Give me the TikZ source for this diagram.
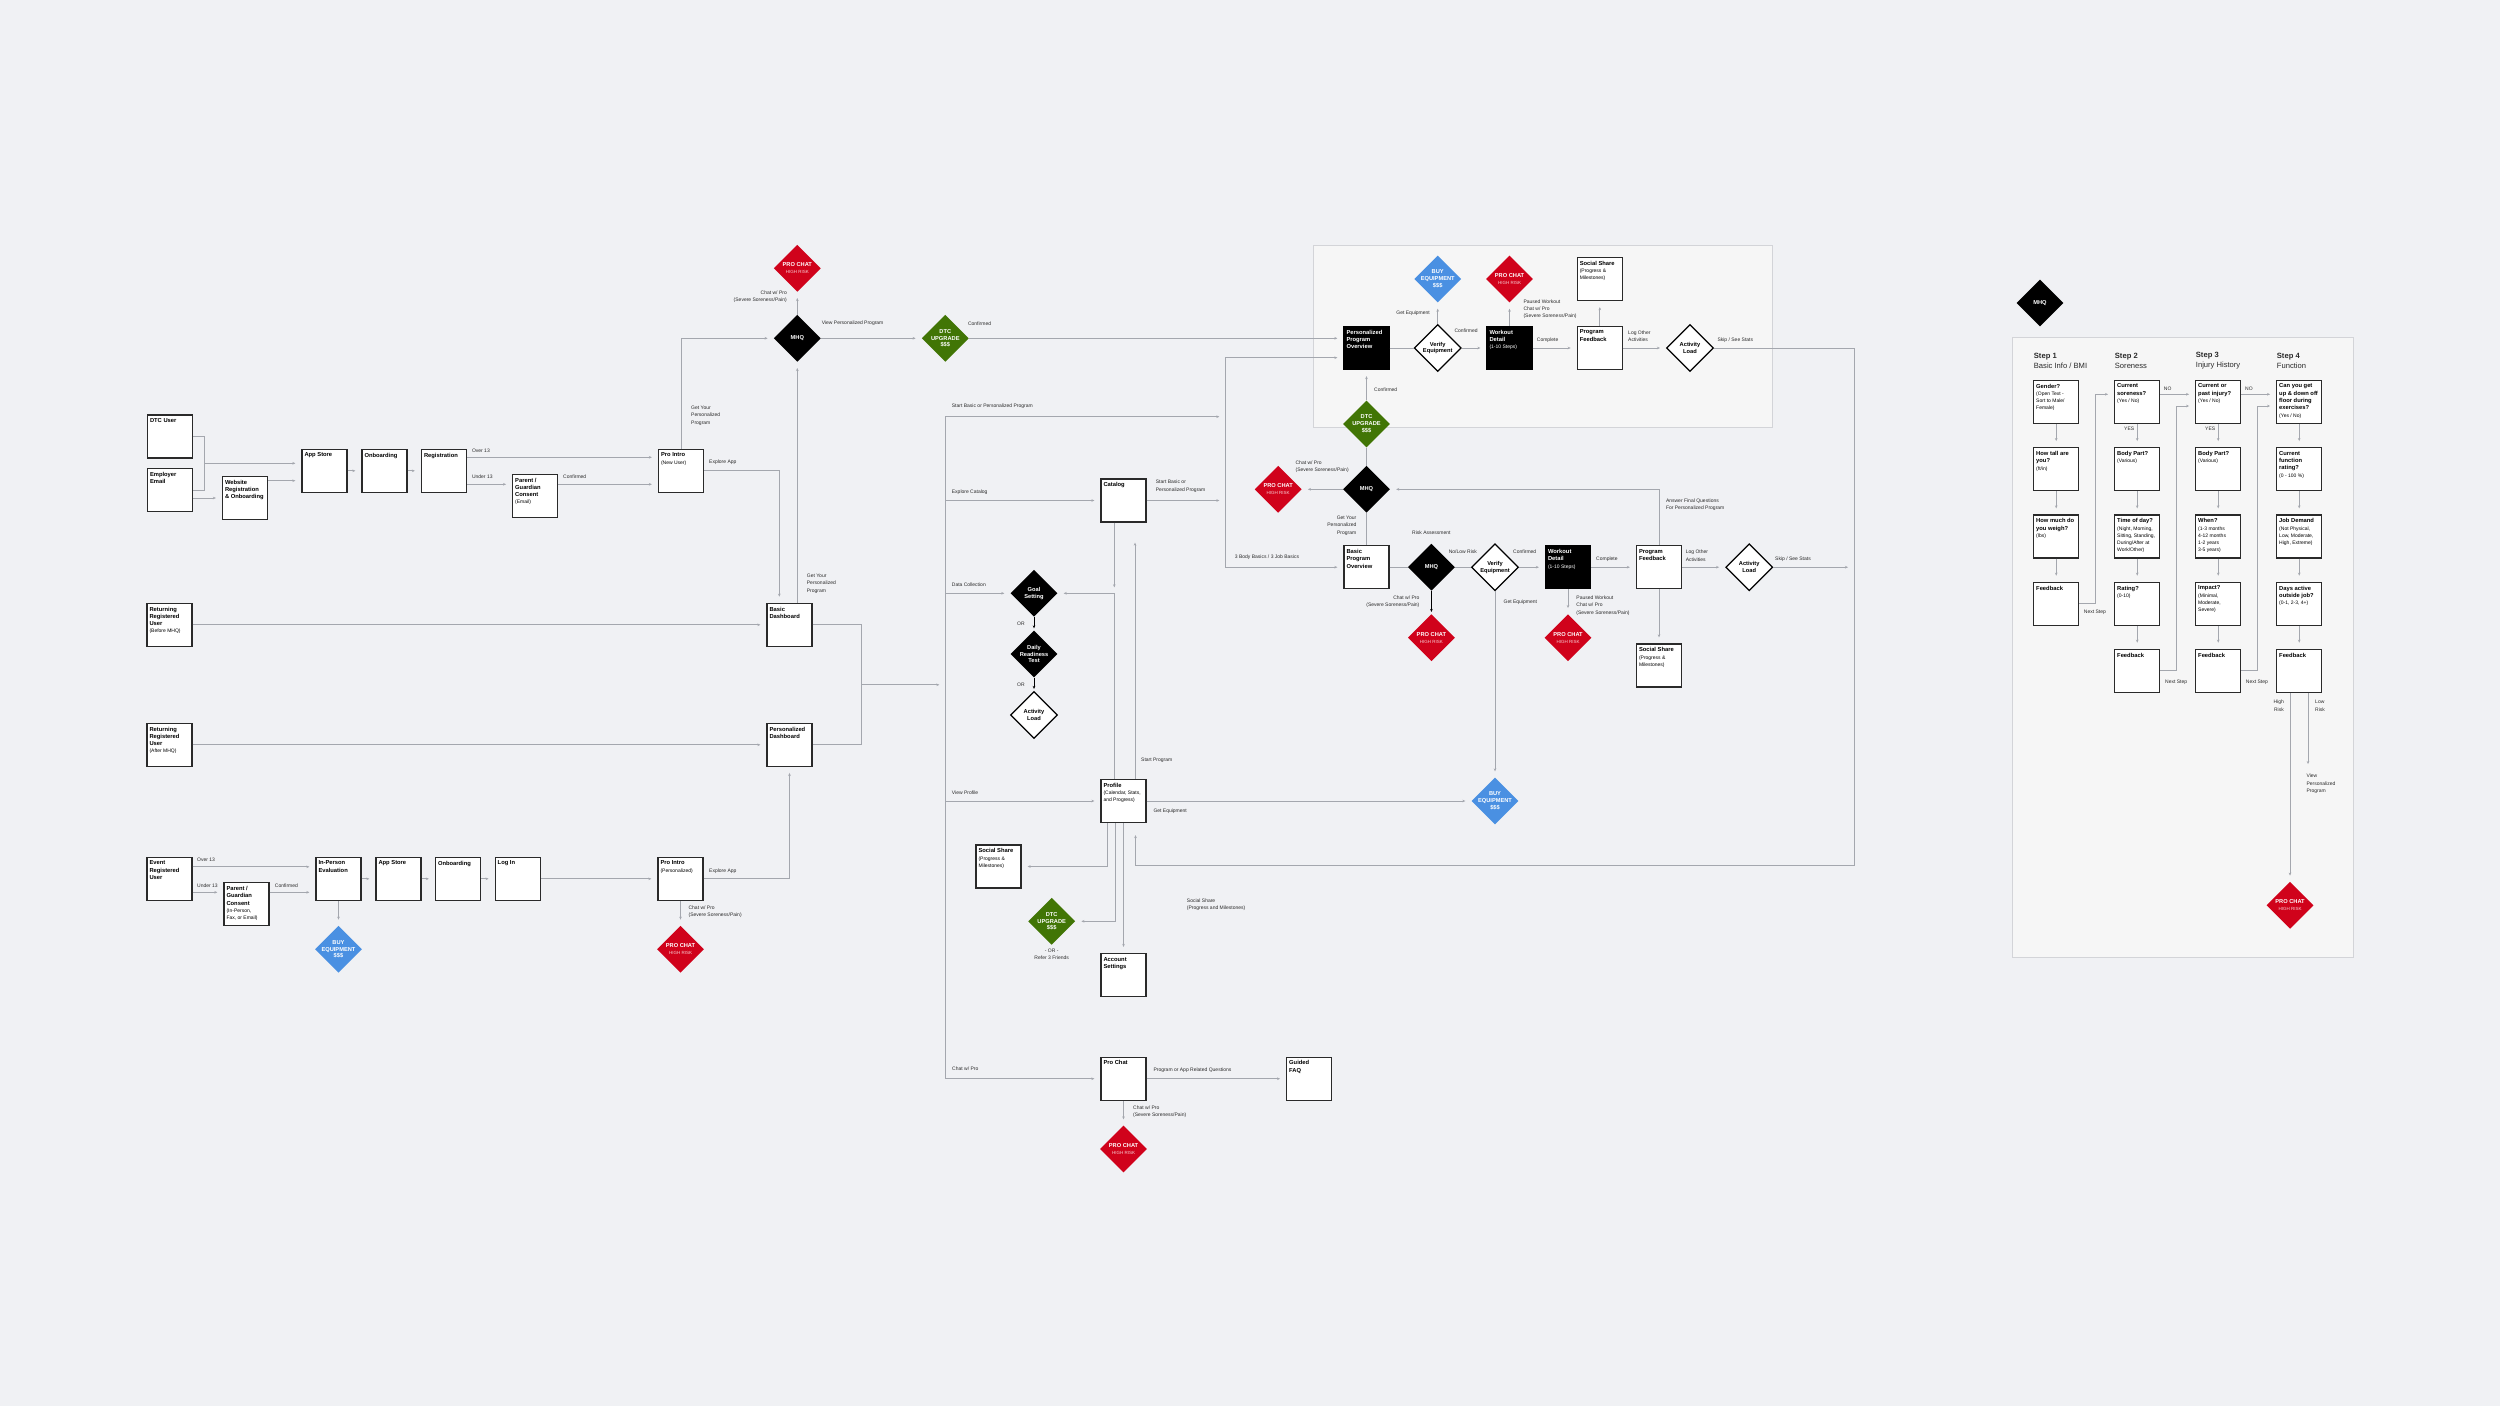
\documentclass[tikz,border=0pt]{standalone}
\usepackage{fontspec}
\setmainfont{Liberation Sans}
\usepackage{tikz}
\usepackage{xcolor}
\usetikzlibrary{shapes.geometric, arrows.meta, positioning}
\definecolor{FlowBg}{HTML}{F0F1F4}
\definecolor{FlowLine}{HTML}{A4A7AE}
\definecolor{FlowInk}{HTML}{2A2A2A}
\definecolor{FlowPanel}{HTML}{F6F6F6}
\definecolor{FlowPanelEdge}{HTML}{D3D4D8}
\definecolor{RiskRed}{HTML}{D0021B}
\definecolor{UpgradeGreen}{HTML}{417505}
\definecolor{EquipBlue}{HTML}{4A90E2}
\newcommand{\scrtxt}[2]{\parbox[c][36pt][t]{40pt}{\raggedright\fontsize{5.8}{7.3}\selectfont\textbf{#1}\par\fontsize{5}{7.3}\selectfont #2}}
\newcommand{\highrisk}{{\fontsize{4.5}{6}\selectfont\mdseries\color{white!82!RiskRed}HIGH RISK}}

\begin{document}
\begin{tikzpicture}[
    x=1pt, y=-1pt,
    screen/.style={draw=FlowInk, line width=1.3pt, fill=white, minimum width=45pt, minimum height=43pt, inner sep=2.5pt},
    darkscreen/.style={screen, draw=black, fill=black, text=white},
    decision/.style={diamond, minimum width=47pt, minimum height=47pt, inner sep=-4pt, align=center, text=white, font=\fontsize{5.7}{6.9}\selectfont\bfseries},
    mhq/.style={decision, fill=black},
    prochat/.style={decision, fill=RiskRed},
    upgrade/.style={decision, fill=UpgradeGreen},
    equip/.style={decision, fill=EquipBlue},
    check/.style={decision, fill=white, draw=black, line width=1.2pt, text=black},
    link/.style={draw=FlowLine, line width=0.8pt},
    flow/.style={link, -{Stealth[length=3pt,width=2.6pt]}, shorten >=6pt},
    darkflow/.style={draw=black, line width=0.9pt, -{Stealth[length=3pt,width=2.6pt]}, shorten >=2pt},
    lbl/.style={font=\fontsize{5}{7.3}\selectfont, text=FlowInk, inner sep=0pt, align=left, anchor=west},
    stephead/.style={font=\fontsize{7.6}{10}\selectfont, text=FlowInk, inner sep=0pt, align=left, anchor=west}
]
\useasboundingbox (0,0) rectangle (2500,1406);
\fill[FlowBg] (0,0) rectangle (2500,1406);

% panels
\draw[FlowPanelEdge, fill=FlowPanel, line width=1pt] (1313.3,245) rectangle (1772.7,427.3);
\draw[FlowPanelEdge, fill=FlowPanel, line width=1pt] (2012.3,337.3) rectangle (2353.3,957.3);

% new users
\node[screen] (dtcuser) at (170,436.5) {\scrtxt{DTC User}{}};
\node[screen] (employer) at (170,490) {\scrtxt{Employer\\Email}{}};
\node[screen] (website) at (245,498) {\scrtxt{Website\\Registration\\\& Onboarding}{}};
\node[screen] (appstoreA) at (324.5,470.8) {\scrtxt{App Store}{}};
\node[screen] (onboardA) at (384.5,470.8) {\scrtxt{Onboarding}{}};
\node[screen] (register) at (444,470.8) {\scrtxt{Registration}{}};
\node[screen] (consentA) at (535.2,495.8) {\scrtxt{Parent /\\Guardian\\Consent}{(Email)}};
\node[screen] (introNew) at (681,470.8) {\scrtxt{Pro Intro}{(New User)}};

% returning users
\node[screen] (returnBefore) at (169.5,624.8) {\scrtxt{Returning\\Registered\\User}{(Before MHQ)}};
\node[screen] (returnAfter) at (169.5,744.8) {\scrtxt{Returning\\Registered\\User}{(After MHQ)}};
\node[screen] (basicDash) at (789.5,624.8) {\scrtxt{Basic\\Dashboard}{}};
\node[screen] (persDash) at (789.5,744.8) {\scrtxt{Personalized\\Dashboard}{}};

% event users
\node[screen] (eventUser) at (169.5,878.8) {\scrtxt{Event\\Registered\\User}{}};
\node[screen] (consentB) at (246.5,904.2) {\scrtxt{Parent /\\Guardian\\Consent}{(In-Person,\\Fax, or Email)}};
\node[screen] (evaluation) at (338.5,878.8) {\scrtxt{In-Person\\Evaluation}{}};
\node[screen] (appstoreB) at (398.5,878.8) {\scrtxt{App Store}{}};
\node[screen] (onboardB) at (458,878.8) {\scrtxt{Onboarding}{}};
\node[screen] (login) at (517.7,878.8) {\scrtxt{Log In}{}};
\node[screen] (introPers) at (680.5,878.8) {\scrtxt{Pro Intro}{(Personalized)}};
\node[equip] (buyEvent) at (338.5,949.3) {BUY\\EQUIPMENT\\\$\$\$};
\node[prochat] (chatIntro) at (680.5,949.3) {PRO CHAT\\\highrisk};

% first MHQ
\node[mhq] (mhqIntro) at (797.3,338.3) {MHQ};
\node[prochat] (chatMhq) at (797.3,268.3) {PRO CHAT\\\highrisk};
\node[upgrade] (upgradeMain) at (945.3,338.3) {DTC\\UPGRADE\\\$\$\$};

% app sections
\node[screen] (catalog) at (1123.5,500.5) {\scrtxt{Catalog}{}};
\node[mhq] (goal) at (1034,593.3) {Goal\\Setting};
\node[mhq] (readiness) at (1034,654) {Daily\\Readiness\\Test};
\node[check] (loadDaily) at (1034,715) {Activity\\Load};
\node[screen] (profile) at (1123.5,801) {\scrtxt{Profile}{(Calendar, Stats,\\and Progress)}};
\node[screen] (shareProfile) at (998.5,866.5) {\scrtxt{Social Share}{(Progress \&\\Milestones)}};
\node[upgrade] (upgradeProfile) at (1051.7,921.3) {DTC\\UPGRADE\\\$\$\$};
\node[screen] (account) at (1123.5,975) {\scrtxt{Account\\Settings}{}};
\node[screen] (chatScreen) at (1123.5,1078.7) {\scrtxt{Pro Chat}{}};
\node[screen] (faq) at (1309.2,1078.7) {\scrtxt{Guided\\FAQ}{}};
\node[prochat] (chatScreenRisk) at (1123.5,1149) {PRO CHAT\\\highrisk};

% personalized program
\node[darkscreen] (persOverview) at (1366.5,348) {\scrtxt{Personalized\\Program\\Overview}{}};
\node[check] (verifyTop) at (1437.7,348) {Verify\\Equipment};
\node[equip] (buyTop) at (1437.7,279) {BUY\\EQUIPMENT\\\$\$\$};
\node[darkscreen] (workoutTop) at (1509.5,348) {\scrtxt{Workout\\Detail}{(1-10 Steps)}};
\node[prochat] (chatTop) at (1509.5,279) {PRO CHAT\\\highrisk};
\node[screen] (feedbackTop) at (1599.8,348) {\scrtxt{Program\\Feedback}{}};
\node[screen] (shareTop) at (1599.8,279) {\scrtxt{Social Share}{(Progress \&\\Milestones)}};
\node[check] (loadTop) at (1690,348) {Activity\\Load};
\node[upgrade] (upgradeTop) at (1366.5,424) {DTC\\UPGRADE\\\$\$\$};

% basic program
\node[mhq] (mhqBasic) at (1366.5,489.3) {MHQ};
\node[prochat] (chatBasic) at (1278.2,489.3) {PRO CHAT\\\highrisk};
\node[screen] (basicOverview) at (1366.5,567.2) {\scrtxt{Basic\\Program\\Overview}{}};
\node[mhq] (mhqRisk) at (1431.4,567.2) {MHQ};
\node[check] (verifyBasic) at (1495,567.2) {Verify\\Equipment};
\node[darkscreen] (workoutBasic) at (1568,567.2) {\scrtxt{Workout\\Detail}{(1-10 Steps)}};
\node[screen] (feedbackBasic) at (1659,567.2) {\scrtxt{Program\\Feedback}{}};
\node[check] (loadBasic) at (1749.2,567.2) {Activity\\Load};
\node[prochat] (chatRisk) at (1431.4,637.7) {PRO CHAT\\\highrisk};
\node[prochat] (chatPaused) at (1568,637.7) {PRO CHAT\\\highrisk};
\node[screen] (shareBasic) at (1659,665.5) {\scrtxt{Social Share}{(Progress \&\\Milestones)}};
\node[equip] (buyBasic) at (1495,801) {BUY\\EQUIPMENT\\\$\$\$};

% MHQ steps
\node[mhq] (mhqLegend) at (2040,303) {MHQ};
\node[stephead] (step1) at (2033.7,361) {\textbf{Step 1}\\Basic Info / BMI};
\node[stephead] (step2) at (2114.7,361) {\textbf{Step 2}\\Soreness};
\node[stephead] (step3) at (2195.7,361) {\textbf{Step 3}\\Injury History};
\node[stephead] (step4) at (2276.7,361) {\textbf{Step 4}\\Function};
\node[screen] (q11) at (2056.2,401.8) {\scrtxt{Gender?}{(Open Text -\\Sort to Male/\\Female)}};
\node[screen] (q12) at (2056.2,469.2) {\scrtxt{How tall are\\you?}{(ft/in)}};
\node[screen] (q13) at (2056.2,536.5) {\scrtxt{How much do\\you weigh?}{(lbs)}};
\node[screen] (q14) at (2056.2,603.8) {\scrtxt{Feedback}{}};
\node[screen] (q21) at (2137.2,401.8) {\scrtxt{Current\\soreness?}{(Yes / No)}};
\node[screen] (q22) at (2137.2,469.2) {\scrtxt{Body Part?}{(Various)}};
\node[screen] (q23) at (2137.2,536.5) {\scrtxt{Time of day?}{(Night, Morning,\\Sitting, Standing,\\During/After at\\Work/Other)}};
\node[screen] (q24) at (2137.2,603.8) {\scrtxt{Rating?}{(0-10)}};
\node[screen] (q25) at (2137.2,670.8) {\scrtxt{Feedback}{}};
\node[screen] (q31) at (2218.2,401.8) {\scrtxt{Current or\\past injury?}{(Yes / No)}};
\node[screen] (q32) at (2218.2,469.2) {\scrtxt{Body Part?}{(Various)}};
\node[screen] (q33) at (2218.2,536.5) {\scrtxt{When?}{(1-3 months\\4-12 months\\1-2 years\\3-5 years)}};
\node[screen] (q34) at (2218.2,603.8) {\scrtxt{Impact?}{(Minimal,\\Moderate,\\Severe)}};
\node[screen] (q35) at (2218.2,670.8) {\scrtxt{Feedback}{}};
\node[screen] (q41) at (2299.2,401.8) {\scrtxt{Can you get\\up \& down off\\floor during\\exercises?}{(Yes / No)}};
\node[screen] (q42) at (2299.2,469.2) {\scrtxt{Current\\function\\rating?}{(0 - 100 \%)}};
\node[screen] (q43) at (2299.2,536.5) {\scrtxt{Job Demand}{(Not Physical,\\Low, Moderate,\\High, Extreme)}};
\node[screen] (q44) at (2299.2,603.8) {\scrtxt{Days active\\outside job?}{(0-1, 2-3, 4+)}};
\node[screen] (q45) at (2299.2,670.8) {\scrtxt{Feedback}{}};
\node[prochat] (chatFunction) at (2290,905.3) {PRO CHAT\\\highrisk};

% junction points
\coordinate (entryJoin) at (204.3,463.3);
\coordinate (dashJoin) at (861.3,684.8);
\coordinate (spineDash) at (945.3,684.8);
\coordinate (spineTop) at (945.3,416.7);
\coordinate (spineBottom) at (945.3,1078.7);
\coordinate (hubTop) at (1225.3,357.7);
\coordinate (hubBottom) at (1225.3,567.2);
\coordinate (catalogDrop) at (1114.3,593.3);
\coordinate (loopCorner) at (1854,865);
\coordinate (viewProgram) at (2308,770);

% entry connectors
\draw[link] (dtcuser.east) -| (204.3,490) -- (employer.east);
\draw[flow] (entryJoin) -- ([yshift=7.5pt]appstoreA.west);
\draw[flow] ([yshift=-8pt]employer.east) -- (website.west);
\draw[flow] ([yshift=17.3pt]website.east) -- ([yshift=-9.9pt]appstoreA.west);
\draw[flow] (appstoreA) -- (onboardA);
\draw[flow] (onboardA) -- (register);
\draw[flow] ([yshift=13.5pt]register.east) -- ([yshift=13.5pt]introNew.west);
\draw[flow] ([yshift=-13.5pt]register.east) -- ([yshift=11.5pt]consentA.west);
\draw[flow] ([yshift=11.5pt]consentA.east) -- ([yshift=-13.5pt]introNew.west);
\draw[flow] (introNew.north) |- (mhqIntro.west);
\draw[flow] (introNew.east) -| ([xshift=-10.2pt]basicDash.north);
\draw[flow] ([xshift=7.8pt]basicDash.north) -- (mhqIntro.south);
\draw[flow] (mhqIntro) -- (chatMhq);
\draw[flow] (mhqIntro) -- (upgradeMain);
\draw[flow] (upgradeMain.east) -- ([yshift=9.7pt]persOverview.west);
\draw[flow] (returnBefore) -- (basicDash);
\draw[flow] (returnAfter) -- (persDash);
\draw[link] (basicDash.east) -| (dashJoin) |- (persDash.east);
\draw[flow] (dashJoin) -- (spineDash);

% event connectors
\draw[flow] ([yshift=12pt]eventUser.east) -- ([yshift=12pt]evaluation.west);
\draw[flow] ([yshift=-13.5pt]eventUser.east) -- ([yshift=11.9pt]consentB.west);
\draw[flow] ([yshift=11.9pt]consentB.east) -- ([yshift=-13.5pt]evaluation.west);
\draw[flow] (evaluation) -- (appstoreB);
\draw[flow] (appstoreB) -- (onboardB);
\draw[flow] (onboardB) -- (login);
\draw[flow] (login) -- (introPers);
\draw[flow] (evaluation) -- (buyEvent);
\draw[flow] (introPers) -- (chatIntro);
\draw[flow] (introPers.east) -| (persDash.south);

% app spine
\draw[link] (spineTop) -- (spineBottom);
\draw[link] (hubTop) -- (hubBottom);
\draw[flow] (spineTop) -- (spineTop -| hubTop);
\draw[flow] (hubTop) -- ([yshift=-9.7pt]persOverview.west);
\draw[flow] (hubBottom) -- (basicOverview.west);
\draw[flow] (spineTop |- catalog.west) -- (catalog.west);
\draw[flow] (catalog.east) -- (catalog.east -| hubTop);
\draw[flow] (spineTop |- goal.west) -- (goal.west);
\draw[flow] (spineTop |- profile.west) -- (profile.west);
\draw[flow] (spineBottom) -- (chatScreen.west);
\draw[flow] ([xshift=-9.2pt]catalog.south) -- (catalogDrop);
\draw[flow] ([xshift=-9.2pt]profile.north) |- (goal.east);
\draw[flow, shorten >=20pt] ([xshift=11.5pt]profile.north) -- ([xshift=11.5pt]catalog.south);
\draw[darkflow] (goal) -- (readiness);
\draw[darkflow] (readiness) -- (loadDaily);
\draw[flow] ([xshift=-16.2pt]profile.south) |- (shareProfile.east);
\draw[flow] ([xshift=-7.8pt]profile.south) |- (upgradeProfile.east);
\draw[flow] (profile) -- (account);
\draw[flow] (profile.east) -- (buyBasic.west);
\draw[flow] (chatScreen) -- (faq);
\draw[flow] (chatScreen) -- (chatScreenRisk);
\draw[flow, shorten >=12pt] (loadTop.east) -| (loopCorner) -| ([xshift=12pt]profile.south);
\draw[flow] (loadBasic.east) -- (loadBasic.east -| loopCorner);

% personalized program connectors
\draw[link] (persOverview) -- (verifyTop);
\draw[flow] (verifyTop) -- (buyTop);
\draw[flow] (verifyTop) -- (workoutTop);
\draw[flow] (workoutTop) -- (chatTop);
\draw[flow] (workoutTop) -- (feedbackTop);
\draw[flow] (feedbackTop) -- (shareTop);
\draw[flow] (feedbackTop) -- (loadTop);
\draw[flow] (upgradeTop) -- (persOverview);

% basic program connectors
\draw[link] (mhqBasic) -- (upgradeTop);
\draw[flow] (mhqBasic) -- (chatBasic);
\draw[link] (basicOverview) -- (mhqBasic);
\draw[link] (basicOverview) -- (mhqRisk);
\draw[link] (mhqRisk) -- (verifyBasic);
\draw[flow] (verifyBasic) -- (workoutBasic);
\draw[flow] (workoutBasic) -- (feedbackBasic);
\draw[flow] (feedbackBasic) -- (loadBasic);
\draw[flow] (feedbackBasic.north) |- (mhqBasic.east);
\draw[darkflow] (mhqRisk) -- (chatRisk);
\draw[flow] (workoutBasic) -- (chatPaused);
\draw[flow] (verifyBasic) -- (buyBasic);
\draw[flow] (feedbackBasic) -- (shareBasic);

% MHQ step connectors
\foreach \r/\s in {1/2,2/3,3/4}{\draw[flow] (q1\r) -- (q1\s);}
\foreach \c in {2,3,4}{\foreach \r/\s in {1/2,2/3,3/4,4/5}{\draw[flow] (q\c\r) -- (q\c\s);}}
\draw[flow] (q14.east) -| (2095,394.3) -- ([yshift=7.5pt]q21.west);
\draw[flow] ([yshift=7.5pt]q21.east) -- ([yshift=7.5pt]q31.west);
\draw[flow] (q25.east) -| (2176.3,406) -- ([yshift=-4.2pt]q31.west);
\draw[flow] ([yshift=7.5pt]q31.east) -- ([yshift=7.5pt]q41.west);
\draw[flow] (q35.east) -| (2257.3,406) -- ([yshift=-4.2pt]q41.west);
\draw[flow] ([xshift=-9.2pt]q45.south) -- (chatFunction);
\draw[flow] ([xshift=8.8pt]q45.south) -- (viewProgram);

% connector labels
\node[lbl] (lOver13) at (471.8,450.7) {Over 13};
\node[lbl] (lUnder13) at (471.8,477) {Under 13};
\node[lbl] (lConsentOk) at (563,477) {Confirmed};
\node[lbl] (lGetYourA) at (691,415.5) {Get Your\\Personalized\\Program};
\node[lbl] (lExploreA) at (709,461.7) {Explore App};
\node[lbl] (lGetYourB) at (806.7,583.5) {Get Your\\Personalized\\Program};
\node[lbl, anchor=east, align=right] (lChatMhq) at (787,297) {Chat w/ Pro\\(Severe Soreness/Pain)};
\node[lbl] (lViewPers) at (821.6,323.3) {View Personalized Program};
\node[lbl] (lUpgradeOk) at (967.8,323.3) {Confirmed};
\node[lbl] (lOver13b) at (197,860) {Over 13};
\node[lbl] (lUnder13b) at (197,885.7) {Under 13};
\node[lbl] (lConsentOkB) at (274.7,885.7) {Confirmed};
\node[lbl] (lExploreB) at (709,871) {Explore App};
\node[lbl] (lChatIntro) at (688.4,912) {Chat w/ Pro\\(Severe Soreness/Pain)};
\node[lbl] (lStartTop) at (951.7,406) {Start Basic or Personalized Program};
\node[lbl] (lCatalog) at (951.7,491.7) {Explore Catalog};
\node[lbl] (lStartCat) at (1155.7,486.3) {Start Basic or\\Personalized Program};
\node[lbl] (lData) at (951.7,584.7) {Data Collection};
\node[lbl] (lOr1) at (1017,623.7) {OR};
\node[lbl] (lOr2) at (1017,685) {OR};
\node[lbl] (lStartProg) at (1141,760.7) {Start Program};
\node[lbl] (lViewProfile) at (951.7,792.3) {View Profile};
\node[lbl] (lGetEquipProfile) at (1153.3,811) {Get Equipment};
\node[lbl] (lShareNote) at (1186.7,904.7) {Social Share\\(Progress and Milestones)};
\node[lbl, anchor=center, align=center] (lRefer) at (1051.7,954) {- OR -\\Refer 3 Friends};
\node[lbl] (lChatWithPro) at (952,1069) {Chat w/ Pro};
\node[lbl] (lFaqQ) at (1153.3,1069.7) {Program or App Related Questions};
\node[lbl] (lChatScreen) at (1133,1112) {Chat w/ Pro\\(Severe Soreness/Pain)};
\node[lbl] (lBodyBasics) at (1234.7,556.7) {3 Body Basics / 3 Job Basics};
\node[lbl, anchor=east, align=right] (lGetEquipTop) at (1430,312.7) {Get Equipment};
\node[lbl] (lConfTop) at (1454.3,331) {Confirmed};
\node[lbl] (lPausedTop) at (1523.3,309.3) {Paused Workout\\Chat w/ Pro\\(Severe Soreness/Pain)};
\node[lbl] (lCompleteTop) at (1536.7,340) {Complete};
\node[lbl] (lLogTop) at (1628,336.3) {Log Other\\Activities};
\node[lbl] (lSkipTop) at (1717.3,340) {Skip / See Stats};
\node[lbl] (lUpgradeTopOk) at (1374,390) {Confirmed};
\node[lbl] (lChatBasic) at (1295.4,466.5) {Chat w/ Pro\\(Severe Soreness/Pain)};
\node[lbl, anchor=east, align=right] (lGetYourC) at (1356.5,525.5) {Get Your\\Personalized\\Program};
\node[lbl] (lRisk) at (1412,533) {Risk Assessment};
\node[lbl] (lNoLow) at (1448.6,552) {No/Low Risk};
\node[lbl] (lConfBasic) at (1513,552) {Confirmed};
\node[lbl] (lCompleteBasic) at (1596,559.3) {Complete};
\node[lbl] (lLogBasic) at (1685.6,555.7) {Log Other\\Activities};
\node[lbl] (lSkipBasic) at (1775,559) {Skip / See Stats};
\node[lbl] (lFinalQ) at (1665.8,504.5) {Answer Final Questions\\For Personalized Program};
\node[lbl, anchor=east, align=right] (lChatRisk) at (1419.6,602) {Chat w/ Pro\\(Severe Soreness/Pain)};
\node[lbl] (lPausedBasic) at (1576.2,605.5) {Paused Workout\\Chat w/ Pro\\(Severe Soreness/Pain)};
\node[lbl] (lGetEquipBasic) at (1503.4,601.7) {Get Equipment};
\node[lbl] (lNo1) at (2163.7,389) {NO};
\node[lbl] (lNo2) at (2245,389) {NO};
\node[lbl] (lYes1) at (2124,428.7) {YES};
\node[lbl] (lYes2) at (2205,428.7) {YES};
\node[lbl] (lNext1) at (2083.7,612.3) {Next Step};
\node[lbl] (lNext2) at (2165,682) {Next Step};
\node[lbl] (lNext3) at (2245.7,682) {Next Step};
\node[lbl, anchor=east, align=right] (lHigh) at (2284,705.7) {High\\Risk};
\node[lbl] (lLow) at (2315,705.7) {Low\\Risk};
\node[lbl] (lView) at (2306.3,783.7) {View\\Personalized\\Program};
\end{tikzpicture}
\end{document}
